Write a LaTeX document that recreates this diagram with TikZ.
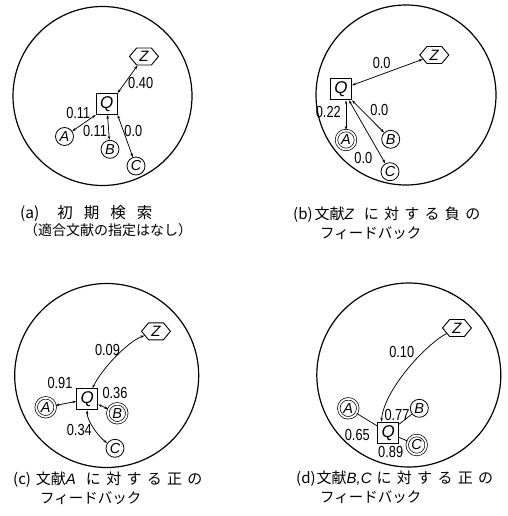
\documentclass[tikz,border=0pt]{standalone}
\usepackage{fontspec}
\setmainfont{Liberation Sans}
\newfontfamily\lblf{Liberation Sans}[FakeStretch=0.8]
\newfontfamily\ltf{Liberation Sans}
\newfontfamily\jpf{Noto Sans CJK JP}
\usetikzlibrary{shapes.symbols,arrows.meta}
\newcommand\gp{\hspace{5.3pt}}
\begin{document}
\begin{tikzpicture}[x=1pt,y=-1pt,
  bigc/.style={line width=1.2pt},
  qbox/.style={draw, line width=0.9pt, minimum size=21pt, inner sep=0pt, font=\ltf\fontsize{17}{17}\selectfont\itshape},
  docn/.style={circle, draw, line width=0.8pt, minimum size=18pt, inner sep=0pt, font=\ltf\fontsize{14.5}{14.5}\selectfont\itshape},
  reln/.style={circle, draw, line width=0.7pt, double, double distance=1.8pt, minimum size=19pt, inner sep=0pt, font=\ltf\fontsize{14.5}{14.5}\selectfont\itshape},
  zhex/.style={signal, signal to=east and west, signal pointer angle=100, draw, line width=0.9pt, minimum width=29pt, minimum height=17pt, inner sep=0pt, font=\ltf\fontsize{15}{15}\selectfont\itshape},
  link/.style={line width=0.75pt, {Stealth[length=4pt,width=2.6pt]}-{Stealth[length=4pt,width=2.6pt]}},
  lnk/.style={line width=0.75pt},
  num/.style={inner sep=0pt, font=\lblf\fontsize{16}{16}\selectfont},
  captxt/.style={inner sep=0pt, anchor=west, font=\jpf\fontsize{14}{14}\selectfont}
]
\fill[white] (0,0) rectangle (507,516);
\useasboundingbox (0,0) rectangle (507,516);

% ---------------- (a)
\draw[bigc] (102.5,96) circle [radius=89.5];
\node[zhex] (za) at (144,56.5) {Z};
\node[qbox] (qa) at (106.7,104) {Q};
\node[docn] (aa) at (64.5,136.5) {A};
\node[docn] (ba) at (110,149.3) {B};
\node[docn] (ca) at (136,166) {C};
\draw[link] (za) -- (qa.north east);
\draw[link] (aa) -- (qa.south west);
\draw[link] (ba) -- (qa);
\draw[link] (ca) -- (qa.south east);
\node[num] (la1) at (140.7,83.3) {0.40};
\node[num] (la2) at (78.3,112.7) {0.11};
\node[num] (la3) at (95,130.7) {0.11};
\node[num] (la4) at (133.3,130.7) {0.0};
\node[captxt,font=\jpf\fontsize{15.5}{15.5}\selectfont] (cpa1) at (20,213) {(a)\hspace{18pt}初\hspace{11pt}期\hspace{11pt}検\hspace{11pt}索};
\node[captxt] (cpa2) at (24,230) {（適合文献の指定はなし）};

% ---------------- (b)
\draw[bigc] (406,95) circle [radius=90];
\node[zhex] (zb) at (434.3,55) {Z};
\node[qbox] (qb) at (341,89.3) {Q};
\node[reln] (ab) at (346,140) {A};
\node[docn] (bb) at (390.7,139.3) {B};
\node[docn] (cb) at (390,171.7) {C};
\draw[link] (zb) -- (qb);
\draw[link] (qb.south -| ab) -- (ab);
\draw[link] (qb.south east) -- (bb);
\draw[link] ([xshift=-3pt]qb.south east) -- (cb);
\node[num] (lb1) at (381.7,63.3) {0.0};
\node[num] (lb2) at (328.3,111.7) {0.22};
\node[num] (lb3) at (379.3,110) {0.0};
\node[num] (lb4) at (363.3,157.7) {0.0};
\node[captxt,font=\jpf\fontsize{15}{15}\selectfont] (cpb1) at (293,215) {(b)\hspace{2pt}文献{\ltf\itshape Z}\hspace{10pt}に\gp 対\gp す\gp る\gp 負\gp の};
\node[captxt,font=\jpf\fontsize{14.5}{14.5}\selectfont] (cpb2) at (320,233) {フィードバック};

% ---------------- (c)
\draw[bigc] (106.7,375.5) circle [radius=92];
\node[zhex] (zc) at (156,331.3) {Z};
\node[qbox] (qc) at (87.3,399.3) {Q};
\node[reln] (ac) at (45.7,407.3) {A};
\node[reln] (bc) at (117.3,413.3) {B};
\node[docn] (cc) at (115,448.3) {C};
\draw[link] (zc) .. controls (127,342) and (101,370) .. (qc);
\draw[link] (qc) -- (ac);
\draw[link] (qc) -- (bc);
\draw[link] (cc) .. controls (100,438) and (87,422) .. (qc);
\node[num] (lc1) at (107.5,350) {0.09};
\node[num] (lc2) at (60,383.3) {0.91};
\node[num] (lc3) at (115,393.3) {0.36};
\node[num] (lc4) at (79.3,430) {0.34};
\node[captxt,font=\jpf\fontsize{15}{15}\selectfont] (cpc1) at (13,479.5) {(c)\hspace{5pt}文献{\ltf\itshape A}\hspace{10pt}に\gp 対\gp す\gp る\gp 正\gp の};
\node[captxt,font=\jpf\fontsize{14.5}{14.5}\selectfont] (cpc2) at (40,498.5) {フィードバック};

% ---------------- (d)
\draw[bigc] (408.8,375) circle [radius=92];
\node[zhex] (zd) at (457,328) {Z};
\node[qbox] (qd) at (388.3,432.7) {Q};
\node[reln] (ad) at (348.3,408.3) {A};
\node[docn] (bd) at (419.3,408.3) {B};
\node[reln] (cd) at (416.7,445) {C};
\draw[lnk,-{Stealth[length=4pt,width=2.6pt]}] (zd) .. controls (425,345) and (384,390) .. ([xshift=4pt]qd.north west);
\draw[lnk] (ad) -- (qd);
\draw[lnk] (bd) -- (qd);
\draw[lnk] (cd) -- (qd);
\node[num] (ld1) at (401.7,351.7) {0.10};
\node[num] (ld2) at (397,414.5) {0.77};
\node[num] (ld3) at (357.3,435) {0.65};
\node[num] (ld4) at (390.7,451.7) {0.89};
\node[captxt,font=\jpf\fontsize{15}{15}\selectfont] (cpd1) at (296,478.5) {(d)\hspace{1pt}文献{\ltf\itshape B,C}\hspace{5pt}に\gp 対\gp す\gp る\gp 正\gp の};
\node[captxt,font=\jpf\fontsize{14.5}{14.5}\selectfont] (cpd2) at (320,497) {フィードバック};
\end{tikzpicture}
\end{document}
